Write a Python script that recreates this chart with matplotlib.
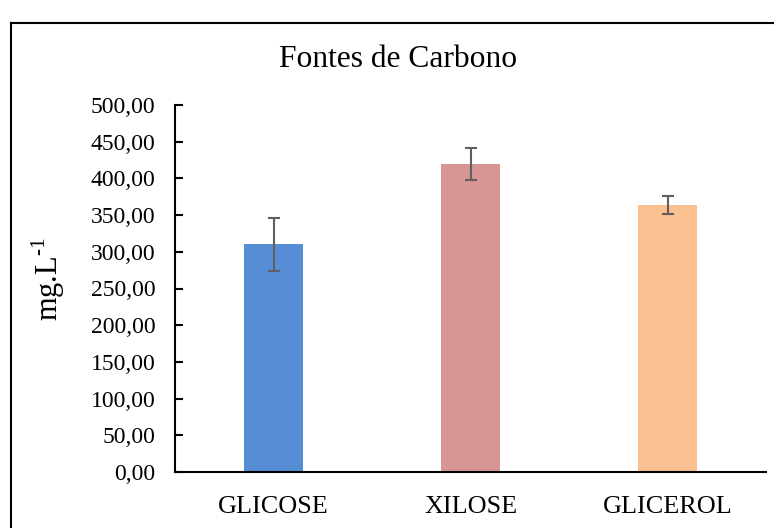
import matplotlib
matplotlib.use('Agg')
import numpy as np
import matplotlib.pyplot as plt
from matplotlib.lines import Line2D

plt.rcParams['font.family'] = ['Liberation Serif', 'DejaVu Serif']
plt.rcParams['mathtext.fontset'] = 'custom'
plt.rcParams['mathtext.rm'] = 'Liberation Serif'

# dados
fontes = ['GLICOSE', 'XILOSE', 'GLICEROL']
media = [310.0, 420.0, 364.0]
erro = [36.0, 21.5, 12.0]
cores = ['#558ED5', '#D99594', '#FAC090']
y_ticks = np.arange(0, 501, 50)
y_labels = [f"{v:.2f}".replace('.', ',') for v in y_ticks]

fig = plt.figure(figsize=(7.74, 5.28), dpi=100)
ax = fig.add_axes([175/774, 1-472/528, 591/774, 367/528])

x = np.arange(len(fontes))
ax.bar(x, media, width=0.3, color=cores, zorder=2)
ax.errorbar(x, media, yerr=erro, fmt='none', ecolor='#5f5f5f',
            elinewidth=1.5, capsize=4.5, capthick=1.5, zorder=3)

ax.set_xlim(-0.5, 2.5)
ax.set_ylim(0, 500)
ax.set_yticks(y_ticks)
ax.set_yticklabels(y_labels, fontsize=17)
ax.set_xticks(x)
ax.set_xticklabels(fontes, fontsize=18.8)
ax.tick_params(axis='y', direction='in', length=6, width=1.5, pad=14)
ax.tick_params(axis='x', length=0, pad=17)
for s in ['top', 'right']:
    ax.spines[s].set_visible(False)
for s in ['left', 'bottom']:
    ax.spines[s].set_linewidth(1.5)

# titulo e eixo y
fig.text(398.5/774, 1-67/528, 'Fontes de Carbono', fontsize=22.7,
         ha='center', va='baseline')
fig.text(48/774, 1-279/528, 'mg.L$^{\\mathrm{\u2010}1}$', fontsize=22,
         rotation=90, ha='center', va='center')

# moldura do grafico (cortada a direita e embaixo)
x0, y0 = 11/774, 1-23/528
fig.add_artist(Line2D([x0, 1.0], [y0, y0], color='black', lw=1.5,
                      transform=fig.transFigure))
fig.add_artist(Line2D([x0, x0], [y0, 0.0], color='black', lw=1.5,
                      transform=fig.transFigure))

plt.savefig('out.png', dpi=100)
plt.close()
